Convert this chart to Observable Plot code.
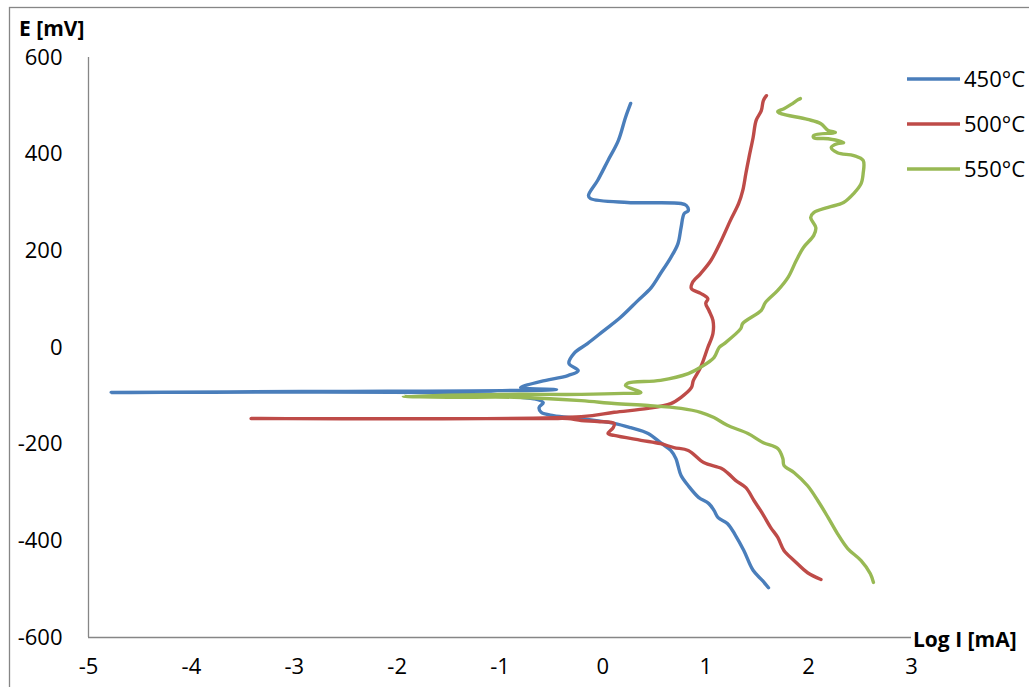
<!DOCTYPE html>
<html>
<head>
<meta charset="utf-8">
<script src="https://cdn.jsdelivr.net/npm/d3@7"></script>
<script src="https://cdn.jsdelivr.net/npm/@observablehq/plot@0.6"></script>
<style>
  html, body { margin: 0; padding: 0; background: #fff; }
  #chart svg { display: block; }
</style>
</head>
<body>
<div id="chart"></div>
<script>
// Series names and colours
const seriesNames = ["450°C", "500°C", "550°C"];
const seriesColors = ["#4A7EBB", "#BE4B48", "#98B954"];
const xTicks = [-5, -4, -3, -2, -1, 0, 1, 2, 3];
const yTicks = [-600, -400, -200, 0, 200, 400, 600];

// [log I (mA), E (mV)] in acquisition order (cathodic -> anodic)
const curve450 = [
  [1.61,-497],[1.55,-482],[1.46,-461],[1.37,-420],[1.29,-389],[1.21,-364],[1.12,-352],[1.08,-337],
  [1.03,-323],[0.93,-310],[0.83,-286],[0.76,-265],[0.73,-244],[0.71,-230],[0.66,-213],[0.56,-197],
  [0.44,-178],[0.27,-166],[0.11,-157],[-0.21,-147],[-0.48,-141],[-0.60,-134],[-0.62,-124],[-0.58,-114],
  [-0.67,-106],[-0.80,-103],[-1.19,-95],[-4.78,-93],[-2.93,-91],[-0.45,-87],[-0.80,-83],[-0.60,-70],
  [-0.34,-58],[-0.24,-48],[-0.33,-33],[-0.28,-12],[-0.15,8],[0.01,35],[0.17,62],[0.34,97],
  [0.47,124],[0.56,153],[0.66,186],[0.73,215],[0.76,248],[0.79,277],[0.83,283],[0.81,294],
  [0.76,298],[0.24,300],[-0.12,308],[-0.14,314],[-0.05,346],[0.05,387],[0.15,428],[0.22,476],[0.27,505]
];
const curve500 = [
  [2.12,-480],[1.99,-466],[1.86,-441],[1.76,-420],[1.70,-393],[1.63,-372],[1.55,-343],[1.47,-317],
  [1.39,-290],[1.29,-275],[1.22,-261],[1.15,-250],[0.98,-238],[0.83,-213],[0.69,-207],[0.56,-199],
  [0.37,-192],[0.11,-182],[0.05,-178],[0.10,-166],[0.11,-157],[-0.05,-153],[-0.21,-151],[-0.34,-147],
  [-0.53,-147],[-3.42,-147],[-0.21,-143],[0.11,-134],[0.44,-126],[0.66,-116],[0.76,-103],[0.86,-83],
  [0.88,-68],[0.95,-41],[1.02,0],[1.07,29],[1.07,56],[1.03,77],[1.00,91],[1.02,101],
  [0.95,112],[0.86,122],[0.87,134],[0.95,153],[1.05,180],[1.15,221],[1.24,263],[1.32,298],
  [1.36,325],[1.39,360],[1.42,393],[1.46,434],[1.49,470],[1.54,490],[1.56,511],[1.59,521]
];
const curve550 = [
  [2.63,-486],[2.60,-468],[2.51,-441],[2.38,-416],[2.28,-385],[2.19,-352],[2.09,-317],[1.99,-286],
  [1.86,-259],[1.76,-244],[1.75,-230],[1.70,-209],[1.56,-197],[1.41,-178],[1.21,-161],[1.08,-145],
  [0.95,-134],[0.76,-126],[0.44,-120],[0.11,-116],[-0.21,-110],[-0.86,-103],[-1.51,-103],[-1.94,-101],
  [-0.99,-97],[-0.21,-97],[0.20,-95],[0.37,-93],[0.22,-79],[0.24,-74],[0.56,-68],[0.83,-54],
  [0.95,-41],[1.08,-21],[1.13,0],[1.18,8],[1.34,39],[1.36,50],[1.54,77],[1.58,93],
  [1.70,118],[1.80,145],[1.88,180],[1.95,207],[2.05,232],[2.07,248],[2.02,269],[2.05,279],
  [2.19,290],[2.34,300],[2.44,319],[2.51,339],[2.53,360],[2.53,387],[2.44,397],[2.28,403],
  [2.22,414],[2.28,422],[2.34,424],[2.19,432],[2.05,434],[2.05,439],[2.26,445],[2.19,449],
  [2.12,463],[1.99,472],[1.73,484],[1.70,488],[1.76,494],[1.83,503],[1.90,513],[1.92,515]
];

const curves = [curve450, curve500, curve550];
const rows = [];
curves.forEach((c, i) => c.forEach(([x, y], k) => rows.push({series: seriesNames[i], x, y, k})));

const axisColor = "#868686";
const font = "'Open Sans', 'Liberation Sans', sans-serif";

const chart = Plot.plot({
  width: 1029,
  height: 687,
  marginLeft: 88,
  marginRight: 118,
  marginTop: 57,
  marginBottom: 50,
  style: {fontFamily: font, fontSize: "22px", color: "#000", background: "#fff"},
  x: {domain: [-5, 3], label: null},
  y: {domain: [-600, 600], label: null},
  color: {domain: seriesNames, range: seriesColors},
  marks: [
    Plot.axisX({ticks: xTicks, tickSize: 0, tickPadding: 21, tickFormat: d => String(d), label: null}),
    Plot.axisY({ticks: yTicks, tickSize: 0, tickPadding: 26, tickFormat: d => String(d), label: null}),
    Plot.ruleX([-5], {stroke: axisColor, strokeWidth: 1.3}),
    Plot.ruleY([-600], {stroke: axisColor, strokeWidth: 1.3}),
    Plot.line(rows, {x: "x", y: "y", z: "series", stroke: "series", strokeWidth: 3.4, strokeLinejoin: "round", strokeLinecap: "round", curve: "catmull-rom"})
  ]
});

document.getElementById("chart").appendChild(chart);

const svg = d3.select(chart);
// outer chart-area border
svg.insert("rect", ":first-child")
  .attr("x", 9.5).attr("y", 7.5).attr("width", 1040).attr("height", 700)
  .attr("fill", "none").attr("stroke", axisColor).attr("stroke-width", 1.3);

function addText(txt, x, y, size, weight, dy) {
  return svg.append("text").text(txt)
    .attr("x", x).attr("y", y).attr("dy", dy || null)
    .style("text-anchor", "start")
    .style("font-family", font)
    .style("font-size", size + "px")
    .style("font-weight", weight)
    .style("fill", "#000");
}

// axis titles
addText("E [mV]", 19, 36, 21, "bold");
addText("Log I [mA]", 913, 647, 21, "bold");

// legend
const leg = svg.append("g");
seriesNames.forEach((name, i) => {
  const yy = 79 + i * 45;
  leg.append("line").attr("x1", 907).attr("x2", 960).attr("y1", yy).attr("y2", yy)
    .attr("stroke", seriesColors[i]).attr("stroke-width", 3.4);
  addText(name, 964, yy, 22, "normal", "0.35em");
});
</script>
</body>
</html>
